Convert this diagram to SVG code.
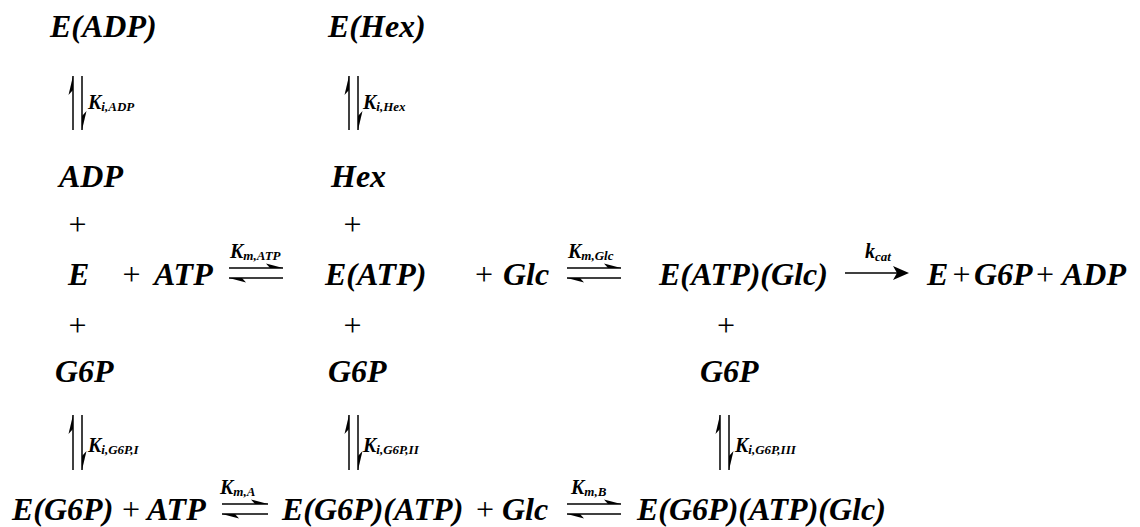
<svg xmlns="http://www.w3.org/2000/svg" width="1140" height="527" viewBox="0 0 1140 527">
  <style>
    .sp { font-family: "Liberation Serif", "Times New Roman", serif; font-size: 32px; font-weight: bold; font-style: italic; fill: #000; }
    .op { font-family: "Liberation Serif", "Times New Roman", serif; font-size: 32px; fill: #000; text-anchor: middle; }
    .k { font-family: "Liberation Serif", "Times New Roman", serif; font-size: 20px; font-weight: bold; font-style: italic; fill: #000; }
    .sub { font-size: 13px; }
    .ln { stroke: #000; stroke-width: 1.5; fill: none; }
    .hd { fill: #000; stroke: none; }
  </style>
  <rect width="1140" height="527" fill="#fff"/>

  <!-- species -->
  <g id="E_ADP"><text class="sp" x="50" y="37">E(ADP)</text></g>
  <g id="E_Hex"><text class="sp" x="328" y="37">E(Hex)</text></g>

  <g id="ADP"><text class="sp" x="59" y="187">ADP</text><text class="op" x="77.5" y="235">+</text></g>
  <g id="Hex"><text class="sp" x="331" y="187">Hex</text><text class="op" x="352.5" y="235">+</text></g>

  <g id="E"><text class="sp" x="68" y="285">E</text></g>
  <g id="ATP1"><text class="op" x="131.5" y="285">+</text><text class="sp" x="154" y="285">ATP</text></g>
  <g id="E_ATP"><text class="sp" x="325" y="285">E(ATP)</text></g>
  <g id="Glc1"><text class="op" x="484" y="285">+</text><text class="sp" x="503" y="285">Glc</text></g>
  <g id="E_ATP_Glc"><text class="sp" x="659" y="285">E(ATP)(Glc)</text></g>
  <g id="products">
    <text class="sp" x="927" y="285">E</text>
    <text class="op" x="961.5" y="285">+</text>
    <text class="sp" x="974" y="285">G6P</text>
    <text class="op" x="1045" y="285">+</text>
    <text class="sp" x="1062" y="285">ADP</text>
  </g>

  <g id="G6P_1"><text class="op" x="77.5" y="336">+</text><text class="sp" x="55" y="382">G6P</text></g>
  <g id="G6P_2"><text class="op" x="352.5" y="336">+</text><text class="sp" x="328" y="382">G6P</text></g>
  <g id="G6P_3"><text class="op" x="726" y="336">+</text><text class="sp" x="700" y="382">G6P</text></g>

  <g id="E_G6P"><text class="sp" x="12" y="520">E(G6P)</text><text class="op" x="131" y="520">+</text><text class="sp" x="147" y="520">ATP</text></g>
  <g id="E_G6P_ATP"><text class="sp" x="282" y="520">E(G6P)(ATP)</text><text class="op" x="485" y="520">+</text><text class="sp" x="502" y="520">Glc</text></g>
  <g id="E_G6P_ATP_Glc"><text class="sp" x="637" y="520">E(G6P)(ATP)(Glc)</text></g>

  <!-- connectors -->
  <g id="connectors">
    <!-- vertical equilibria: up harpoon (barb left) beside down harpoon (barb right) -->
    <g id="v_ADP">
      <line class="ln" x1="73" y1="76" x2="73" y2="130"/>
      <path class="hd" d="M73,76 L68.5,95 L73,90 Z"/>
      <line class="ln" x1="82" y1="76" x2="82" y2="130"/>
      <path class="hd" d="M82,130 L86.5,111 L82,116 Z"/>
    </g>
    <g id="v_Hex">
      <line class="ln" x1="349" y1="76" x2="349" y2="130"/>
      <path class="hd" d="M349,76 L344.5,95 L349,90 Z"/>
      <line class="ln" x1="358" y1="76" x2="358" y2="130"/>
      <path class="hd" d="M358,130 L362.5,111 L358,116 Z"/>
    </g>
    <g id="v_G6P_I">
      <line class="ln" x1="73" y1="415" x2="73" y2="470"/>
      <path class="hd" d="M73,415 L68.5,434 L73,429 Z"/>
      <line class="ln" x1="82" y1="415" x2="82" y2="470"/>
      <path class="hd" d="M82,470 L86.5,451 L82,456 Z"/>
    </g>
    <g id="v_G6P_II">
      <line class="ln" x1="349" y1="415" x2="349" y2="470"/>
      <path class="hd" d="M349,415 L344.5,434 L349,429 Z"/>
      <line class="ln" x1="358" y1="415" x2="358" y2="470"/>
      <path class="hd" d="M358,470 L362.5,451 L358,456 Z"/>
    </g>
    <g id="v_G6P_III">
      <line class="ln" x1="720" y1="415" x2="720" y2="470"/>
      <path class="hd" d="M720,415 L715.5,434 L720,429 Z"/>
      <line class="ln" x1="729" y1="415" x2="729" y2="470"/>
      <path class="hd" d="M729,470 L733.5,451 L729,456 Z"/>
    </g>

    <!-- horizontal equilibria: right harpoon (barb up) over left harpoon (barb down) -->
    <g id="h_ATP">
      <line class="ln" x1="229" y1="268" x2="283" y2="268"/>
      <path class="hd" d="M283,268 L266,263.5 L270,268 Z"/>
      <line class="ln" x1="229" y1="278" x2="283" y2="278"/>
      <path class="hd" d="M229,278 L246,282.5 L242,278 Z"/>
    </g>
    <g id="h_Glc">
      <line class="ln" x1="567" y1="268" x2="621" y2="268"/>
      <path class="hd" d="M621,268 L604,263.5 L608,268 Z"/>
      <line class="ln" x1="567" y1="278" x2="621" y2="278"/>
      <path class="hd" d="M567,278 L584,282.5 L580,278 Z"/>
    </g>
    <g id="h_A">
      <line class="ln" x1="222" y1="504" x2="268" y2="504"/>
      <path class="hd" d="M268,504 L251,499.5 L255,504 Z"/>
      <line class="ln" x1="222" y1="514" x2="268" y2="514"/>
      <path class="hd" d="M222,514 L239,518.5 L235,514 Z"/>
    </g>
    <g id="h_B">
      <line class="ln" x1="567" y1="504" x2="621" y2="504"/>
      <path class="hd" d="M621,504 L604,499.5 L608,504 Z"/>
      <line class="ln" x1="567" y1="514" x2="621" y2="514"/>
      <path class="hd" d="M567,514 L584,518.5 L580,514 Z"/>
    </g>

    <!-- catalytic step -->
    <g id="h_cat">
      <line class="ln" x1="845" y1="273" x2="902" y2="273"/>
      <path class="hd" d="M909,273 L893,266 L897,273 L893,280 Z"/>
    </g>

    <!-- rate constant labels -->
    <text class="k" x="88" y="109">K<tspan class="sub" dy="2">i,ADP</tspan></text>
    <text class="k" x="363" y="109">K<tspan class="sub" dy="2">i,Hex</tspan></text>
    <text class="k" x="88" y="452">K<tspan class="sub" dy="2">i,G6P,I</tspan></text>
    <text class="k" x="363" y="452">K<tspan class="sub" dy="2">i,G6P,II</tspan></text>
    <text class="k" x="735" y="452">K<tspan class="sub" dy="2">i,G6P,III</tspan></text>
    <text class="k" x="230" y="258">K<tspan class="sub" dy="2">m,ATP</tspan></text>
    <text class="k" x="568" y="258">K<tspan class="sub" dy="2">m,Glc</tspan></text>
    <text class="k" x="865" y="258">k<tspan class="sub" dy="3">cat</tspan></text>
    <text class="k" x="220" y="494">K<tspan class="sub" dy="2">m,A</tspan></text>
    <text class="k" x="571" y="494">K<tspan class="sub" dy="2">m,B</tspan></text>
  </g>
</svg>
